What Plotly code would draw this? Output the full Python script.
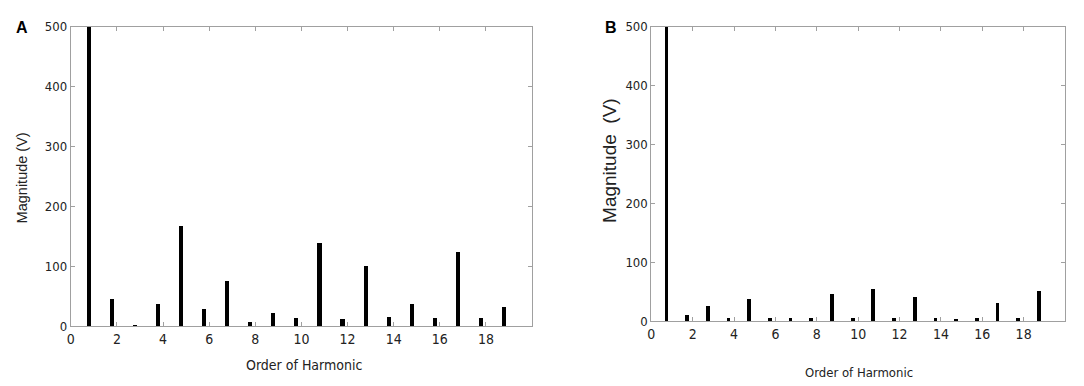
import plotly.graph_objects as go

harmonic_order = list(range(1, 20))
magnitude_a = [560, 47, 3, 37.5, 168, 29.5, 76.5, 8.5, 22.5, 14, 139, 13.5, 102, 16.5, 37.5, 14, 124, 14, 32.5]
magnitude_b = [560, 11, 27, 6, 39, 7, 7, 7, 48, 7, 56.5, 7, 42, 7, 4.5, 7, 32.5, 7, 52]
x_ticks = list(range(0, 20, 2))
y_ticks = [0, 100, 200, 300, 400, 500]

NARROW = "DejaVu Sans Condensed, Liberation Sans Narrow, Liberation Sans, Arial"

fig = go.Figure()
fig.add_trace(go.Bar(x=harmonic_order, y=magnitude_a, width=0.18, offset=-0.32,
                     marker=dict(color="black", line=dict(width=0)), xaxis="x", yaxis="y", showlegend=False))
fig.add_trace(go.Bar(x=harmonic_order, y=magnitude_b, width=0.18, offset=-0.34,
                     marker=dict(color="black", line=dict(width=0)), xaxis="x2", yaxis="y2", showlegend=False))


def axis_style(size):
    return dict(showgrid=False, zeroline=False, showline=True, mirror="ticks", linecolor="#a0a0a0",
                linewidth=1, ticks="inside", ticklen=4, tickcolor="#a0a0a0",
                tickfont=dict(family=NARROW, size=size, color="#222"))


fig.update_layout(
    width=1084, height=386, margin=dict(l=0, r=0, t=0, b=0),
    paper_bgcolor="white", plot_bgcolor="white", bargap=0,
    xaxis=dict(domain=[0.0544, 0.4816], range=[0, 20], tickvals=x_ticks, anchor="y", **axis_style(14)),
    yaxis=dict(domain=[0.161, 0.969], range=[0, 500], tickvals=y_ticks, anchor="x", **axis_style(13)),
    xaxis2=dict(domain=[0.592, 0.975], range=[0, 20], tickvals=x_ticks, anchor="y2", **axis_style(14)),
    yaxis2=dict(domain=[0.174, 0.969], range=[0, 500], tickvals=y_ticks, anchor="x2", **axis_style(13)),
)

annotations = [
    dict(text="<b>A</b>", x=10 / 1084, y=1 - 13 / 386, font=dict(family="Liberation Sans, Arial", size=16, color="black")),
    dict(text="<b>B</b>", x=601 / 1084, y=1 - 13 / 386, font=dict(family="Liberation Sans, Arial", size=16, color="black")),
    dict(text="Magnitude (V)", x=10 / 1084, y=1 - 169 / 386, textangle=-90,
         font=dict(family="Liberation Sans, Arial", size=14.5, color="#222")),
    dict(text="Magnitude  (V)", x=599 / 1084, y=1 - 151 / 386, textangle=-90,
         font=dict(family="Liberation Sans, Arial", size=19, color="#222")),
    dict(text="Order of Harmonic", x=293 / 1084, y=1 - 364 / 386,
         font=dict(family=NARROW, size=14, color="#222")),
    dict(text="Order of Harmonic", x=850 / 1084, y=1 - 372 / 386,
         font=dict(family=NARROW, size=13, color="#222")),
]
for a in annotations:
    a.update(xref="paper", yref="paper", showarrow=False, xanchor="center", yanchor="middle")
fig.update_layout(annotations=annotations)

fig.write_html("out.html")
